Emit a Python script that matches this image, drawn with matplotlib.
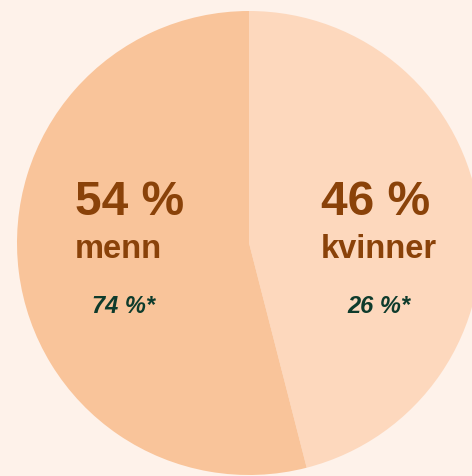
import matplotlib
matplotlib.use("Agg")
import matplotlib.pyplot as plt

labels = ["kvinner", "menn"]
shares = [46, 54]
other_shares = [26, 74]
colors = ["#fdd8bd", "#f9c49a"]
bg = "#fef2ea"
brown = "#8a4209"
green = "#0e3b2c"

W, H = 472, 476
fig = plt.figure(figsize=(W / 100, H / 100), dpi=100)
fig.patch.set_facecolor(bg)
cx, cy, r = 249, 243, 232
ax = fig.add_axes([(cx - r) / W, (H - cy - r) / H, 2 * r / W, 2 * r / H])
ax.set_facecolor(bg)
ax.pie(shares, colors=colors, startangle=90, counterclock=False,
       wedgeprops=dict(linewidth=0), radius=1)
ax.set_xlim(-1, 1)
ax.set_ylim(-1, 1)
ax.set_aspect("equal")
ax.axis("off")

font = "Liberation Sans"

def t(x, y, s, size, color, style="normal"):
    fig.text(x / W, 1 - y / H, s, fontsize=size, color=color, fontweight="bold",
             fontstyle=style, family=font, ha="left", va="baseline")

pos = {"menn": (75, 92), "kvinner": (321, 347)}
for lab, sh, oth in zip(labels, shares, other_shares):
    x0, x1 = pos[lab]
    t(x0, 215, f"{sh} %", 34.5, brown)
    t(x0, 258, lab, 23.5, brown)
    t(x1, 313, f"{oth} %*", 17, green, "italic")

fig.savefig("out.png", dpi=100, facecolor=bg)
